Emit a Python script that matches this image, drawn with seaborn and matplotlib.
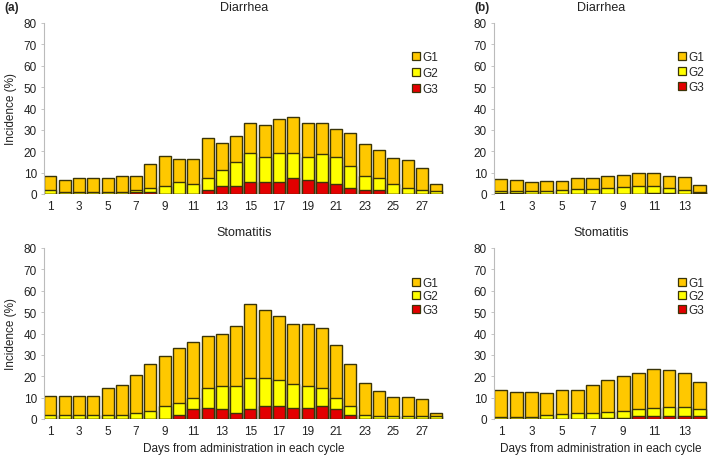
import matplotlib
matplotlib.use('Agg')
import matplotlib.pyplot as plt
import seaborn as sns
from matplotlib.patches import Patch

sns.set_theme(style='white')
plt.rcParams['font.family'] = ['Liberation Sans', 'DejaVu Sans']
plt.rcParams['font.size'] = 8.5

days_a = list(range(1, 29))
days_b = list(range(1, 15))

# bar tops: any grade, grade >= 2, grade 3 (%)
diar_a_any = [8.3, 6.4, 7.4, 7.4, 7.4, 8.3, 8.3, 13.9, 17.7, 16.6, 16.6, 26, 24, 27,
              33.3, 32.4, 35.2, 36.1, 33.3, 33.3, 30.5, 28.6, 23.2, 20.5, 16.7, 15.8, 12.2, 4.9]
diar_a_g2 = [1.9, 1.1, 1, 1, 1, 1, 2, 2.8, 3.6, 5.6, 4.7, 7.4, 11.1, 14.8,
             19.2, 17.5, 19.2, 19.2, 17.5, 18.5, 17.5, 13, 8.3, 7.5, 4.9, 2.8, 1.9, 1.3]
diar_a_g3 = [0, 0, 0, 0, 0, 0, 1, 1, 0, 0, 0, 1.9, 3.7, 3.7,
             5.6, 5.6, 5.6, 7.4, 6.5, 5.6, 4.7, 2.8, 2, 2, 0, 0, 0, 0]

diar_b_any = [6.8, 6.5, 5.4, 5.9, 5.9, 7.6, 7.3, 8.6, 9.1, 9.9, 9.6, 8.6, 8, 4.2]
diar_b_g2 = [1.5, 1.5, 1.5, 1.5, 2, 2.5, 2.5, 2.9, 3.1, 3.6, 3.9, 2.6, 1.9, 0.8]
diar_b_g3 = [0.6, 0.5, 0, 0, 0, 0, 0, 0, 0, 0, 0.4, 0.5, 0, 0.7]

stom_a_any = [10.9, 10.9, 10.9, 10.9, 14.7, 15.8, 20.5, 25.9, 29.7, 33.3, 36.1, 38.9, 39.7, 43.4,
              53.6, 50.9, 48, 44.4, 44.4, 42.5, 34.4, 25.9, 16.7, 13, 10.2, 10.2, 9.4, 3]
stom_a_g2 = [1.7, 1.7, 1.7, 1.7, 1.7, 1.7, 2.8, 3.6, 6.3, 7.3, 10, 14.7, 15.6, 15.6,
             19.2, 19.2, 18.3, 16.6, 15.6, 14.7, 10, 6.3, 2, 1.3, 1.3, 1.3, 1.3, 1.3]
stom_a_g3 = [0, 0, 0, 0, 0, 0, 0, 0, 0, 1.7, 4.5, 5.3, 4.5, 2.8,
             4.5, 6.3, 6.3, 5.3, 5.3, 6.3, 4.5, 1.7, 0, 0, 0, 0, 0, 0]

stom_b_any = [13.4, 12.6, 12.6, 12.3, 13.8, 13.4, 15.8, 18.2, 20, 21.5, 23.4, 23.1, 21.5, 17.1]
stom_b_g2 = [0.9, 0.9, 1.1, 1.8, 2.2, 2.6, 2.8, 3.4, 3.8, 4.5, 5.2, 5.7, 5.7, 4.5]
stom_b_g3 = [0, 0, 0, 0, 0, 0, 0, 0.4, 0.6, 1.5, 1.5, 1.5, 1.5, 1.5]

grade_labels = ['G1', 'G2', 'G3']
grade_colors = ['#FFC800', '#FFFF00', '#E30000']
edge = '#3a3408'

W, H = 709, 456


def draw_panel(ax, days, tops, title, ylabel, xlabel, leg_anchor, leg_spacing):
    for vals, col in zip(tops, grade_colors):
        sns.barplot(x=days, y=vals, color=col, saturation=1, width=0.84,
                    edgecolor=edge, linewidth=1.0, ax=ax)
    n = len(days)
    ax.set_xlim(-0.45, n - 0.45)
    ax.set_ylim(0, 80)
    ax.set_yticks(range(0, 81, 10))
    ax.set_xticks(range(0, n, 2))
    ax.set_xticklabels(days[::2])
    ax.tick_params(axis='x', length=0, pad=4, labelsize=8.5, colors='#222222')
    ax.tick_params(axis='y', length=2, width=0.6, color='#bbbbbb', pad=3,
                   labelsize=8.5, labelcolor='#222222', left=True)
    for s in ['top', 'right', 'bottom']:
        ax.spines[s].set_visible(False)
    ax.spines['left'].set_color('#bbbbbb')
    ax.spines['left'].set_linewidth(0.8)
    ax.set_title(title, fontsize=9, pad=9, color='#222222')
    ax.set_ylabel(ylabel, fontsize=8.5, color='#222222', labelpad=5)
    ax.set_xlabel(xlabel, fontsize=8.5, color='#222222', labelpad=4)
    handles = [Patch(facecolor=c, edgecolor=edge, linewidth=0.9) for c in grade_colors]
    ax.legend(handles, grade_labels, loc='upper left', bbox_to_anchor=leg_anchor,
              frameon=False, borderpad=0, handlelength=0.7, handleheight=0.7,
              handletextpad=0.2, labelspacing=leg_spacing, fontsize=8.5)


fig = plt.figure(figsize=(W / 100, H / 100), dpi=100)

ax_l = (44 / W, 400 / W)
ax_r = (494 / W, 214 / W)
top_row = (1 - 195 / H, 171 / H)
bot_row = (1 - 420 / H, 171 / H)

ax1 = fig.add_axes([ax_l[0], top_row[0], ax_l[1], top_row[1]])
ax2 = fig.add_axes([ax_r[0], top_row[0], ax_r[1], top_row[1]])
ax3 = fig.add_axes([ax_l[0], bot_row[0], ax_l[1], bot_row[1]])
ax4 = fig.add_axes([ax_r[0], bot_row[0], ax_r[1], bot_row[1]])

xl = 'Days from administration in each cycle'
draw_panel(ax1, days_a, [diar_a_any, diar_a_g2, diar_a_g3], 'Diarrhea',
           'Incidence (%)', '', (0.905, 0.87), 0.35)
draw_panel(ax2, days_b, [diar_b_any, diar_b_g2, diar_b_g3], 'Diarrhea',
           '', '', (0.83, 0.87), 0.25)
draw_panel(ax3, days_a, [stom_a_any, stom_a_g2, stom_a_g3], 'Stomatitis',
           'Incidence (%)', xl, (0.905, 0.865), 0.12)
draw_panel(ax4, days_b, [stom_b_any, stom_b_g2, stom_b_g3], 'Stomatitis',
           '', xl, (0.83, 0.865), 0.12)

fig.text(4 / W, 1 - 8 / H, '(a)', fontsize=8.5, fontweight='bold', va='center')
fig.text(474 / W, 1 - 8 / H, '(b)', fontsize=8.5, fontweight='bold', va='center')

fig.savefig('out.png', dpi=100)
